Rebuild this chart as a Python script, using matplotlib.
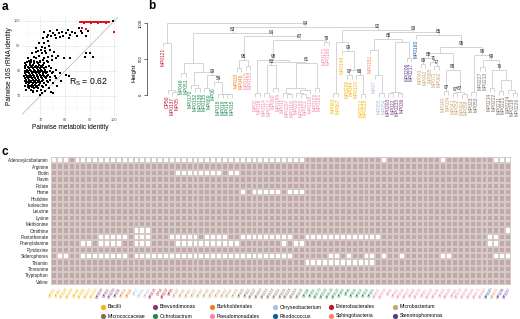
import matplotlib
matplotlib.use("Agg")
import matplotlib.pyplot as plt
import numpy as np
from matplotlib.colors import ListedColormap
from matplotlib.collections import LineCollection

# ------------------------------------------------------------------ data
# panel a : pairwise identities (metabolic, 16S)
black_pts = [
    (64.2, 82.5), (65.8, 82.5), (67.1, 82.5), (69.4, 82.5), (71.0, 82.5),
    (63.8, 82), (66.5, 82), (68.2, 82), (70.3, 82), (73.5, 82),
    (64.9, 81.5), (66.0, 81.5), (67.7, 81.5), (69.0, 81.5), (70.8, 81.5), (72.4, 81.5),
    (63.6, 81), (65.2, 81), (66.9, 81), (68.5, 81), (69.8, 81), (71.6, 81), (74.2, 81),
    (64.4, 80.5), (65.6, 80.5), (67.3, 80.5), (68.9, 80.5), (70.1, 80.5), (72.0, 80.5), (76.5, 80.5),
    (63.9, 80), (65.0, 80), (66.2, 80), (67.9, 80), (69.3, 80), (70.6, 80), (71.9, 80), (73.8, 80),
    (64.7, 79.5), (66.4, 79.5), (67.5, 79.5), (68.7, 79.5), (70.0, 79.5), (71.3, 79.5), (72.8, 79.5), (75.2, 79.5),
    (63.7, 79), (65.3, 79), (66.7, 79), (68.1, 79), (69.5, 79), (70.9, 79), (72.2, 79), (74.5, 79), (77.8, 79),
    (64.1, 78.5), (65.7, 78.5), (67.0, 78.5), (68.4, 78.5), (69.7, 78.5), (71.1, 78.5), (73.0, 78.5), (80.5, 78.5),
    (63.5, 78), (64.8, 78), (66.1, 78), (67.4, 78), (68.6, 78), (70.2, 78), (71.5, 78), (72.6, 78), (75.8, 78), (81.5, 78),
    (64.5, 77.5), (65.9, 77.5), (67.2, 77.5), (68.8, 77.5), (70.4, 77.5), (71.8, 77.5), (73.9, 77.5),
    (63.8, 77), (65.1, 77), (66.6, 77), (67.8, 77), (69.2, 77), (70.7, 77), (72.1, 77), (76.3, 77),
    (64.3, 76.5), (65.5, 76.5), (66.8, 76.5), (68.3, 76.5), (69.6, 76.5), (71.2, 76.5), (74.0, 76.5),
    (63.9, 76), (65.4, 76), (66.3, 76), (67.6, 76), (69.1, 76), (70.5, 76), (72.5, 76), (78.3, 76),
    (64.6, 75.5), (66.0, 75.5), (67.3, 75.5), (68.9, 75.5), (70.0, 75.5), (73.2, 75.5),
    (64.0, 75), (65.2, 75), (66.9, 75), (68.2, 75), (69.9, 75), (71.4, 75), (75.0, 75),
    (64.8, 74.5), (66.4, 74.5), (67.9, 74.5), (69.4, 74.5), (72.3, 74.5),
    (63.7, 74), (65.6, 74), (67.0, 74), (68.6, 74), (70.8, 74), (76.8, 74),
    (64.9, 73.5), (66.6, 73.5), (68.0, 73.5), (71.0, 73.5),
    (65.3, 73), (67.4, 73), (69.0, 73), (73.6, 73),
    (64.2, 72.5), (66.2, 72.5), (70.2, 72.5),
    (66.9, 72), (68.4, 72), (71.7, 72),
    (67.0, 71.5), (74.3, 71.5), (70.6, 71), (75.1, 71), (69.8, 70.5),
    (63.9, 83), (65.6, 83), (67.4, 83), (69.1, 83), (71.3, 83),
    (64.5, 83.5), (66.3, 83.5), (68.7, 83.5), (70.0, 83.5), (72.9, 83.5),
    (65.2, 84), (67.5, 84), (69.8, 84), (72.5, 84),
    (66.0, 84.5), (70.9, 84.5), (74.6, 84.5),
    (64.8, 85), (68.2, 85), (71.4, 85), (76.2, 85), (79.5, 85), (82.0, 85),
    (67.2, 85.5), (73.0, 85.5), (88.0, 85.5), (91.5, 85.5),
    (69.5, 86), (74.8, 86), (77.0, 86),
    (66.5, 87), (70.5, 87), (72.2, 87), (88.5, 87), (90.0, 87),
    (68.3, 87.5), (75.5, 87.5), (69.0, 88), (71.8, 88),
    (70.2, 88.5), (74.0, 88.5), (68.0, 89), (72.0, 89), (70.8, 89.5), (73.5, 90),
    (69.6, 91), (71.5, 91), (73.0, 92),
    (71.0, 93), (76.5, 93), (81.5, 93), (72.8, 93.5), (78.0, 93.5),
    (74.2, 94), (79.2, 94), (85.0, 94), (88.5, 94),
    (73.0, 94.5), (76.0, 94.5), (82.0, 94.5),
    (75.0, 95), (77.5, 95), (80.3, 95), (84.0, 95), (87.0, 95),
    (71.5, 95.5), (78.8, 95.5), (82.8, 95.5),
    (74.0, 96), (86.5, 96), (89.5, 96), (76.8, 96.5), (81.0, 96.5), (85.5, 97),
    (99.5, 100),
]
red_pts = [
    (86.0, 99.7), (86.6, 99.7), (87.2, 99.7), (87.8, 99.7), (88.4, 99.7), (89.0, 99.7),
    (89.6, 99.7), (90.2, 99.7), (90.8, 99.7), (91.4, 99.7), (92.0, 99.7), (92.6, 99.7),
    (93.2, 99.7), (93.8, 99.7), (94.4, 99.7), (95.0, 99.7), (95.6, 99.7), (96.2, 99.7),
    (96.8, 99.7), (97.4, 99.7), (98.0, 99.7),
    (87.5, 99.2), (90.5, 99.2), (93.5, 99.2), (96.5, 99.2),
    (86.8, 97.3), (88.6, 96.8), (99.8, 95.6),
]
rs_label = "R$_\\mathregular{S}$ = 0.62"

# taxonomic groups (alphabetical = heatmap column order)
groups = ["Bacilli", "Brevundimonas", "Burkholderiales", "Chryseobacterium",
          "Enterobacterales", "Microbacterium", "Micrococcaceae", "Ochrobactrum",
          "Pseudomonadales", "Rhodococcus", "Sphingobacteria", "Stenotrophomonas"]
group_colors = ["#F2B50A", "#7A3B7E", "#F07D1E", "#A9C0DE",
                "#C0122F", "#C9A46E", "#7E6D60", "#1D8A4B",
                "#F08AA6", "#0B5A9C", "#F7845F", "#553A8A"]
legend_grid = [["Bacilli", "Micrococcaceae"], ["Brevundimonas", "Ochrobactrum"],
               ["Burkholderiales", "Pseudomonadales"], ["Chryseobacterium", "Rhodococcus"],
               ["Enterobacterales", "Sphingobacteria"], ["Microbacterium", "Stenotrophomonas"]]
strains = {
    "Bacilli": ["MP063", "MP067", "MP0148", "MP0200", "MP044", "MP0119", "MP0212", "MP0220"],
    "Brevundimonas": ["MP0203", "MP022", "MP0233", "MP036"],
    "Burkholderiales": ["MP033", "MP046"],
    "Chryseobacterium": ["MP07", "MP055", "MP054"],
    "Enterobacterales": ["MP0121", "OP50", "MP0137", "MP05"],
    "Microbacterium": ["MP043", "MP042", "MP065", "MP072", "MP062", "MP040", "MP034",
                       "MP041", "MP052", "MP064", "MP058"],
    "Micrococcaceae": ["MP023", "MP053", "MP0227", "MP0213", "MP0214", "MP0222", "MP0211",
                       "MP0221", "MP0224", "MP0218", "MP0226"],
    "Ochrobactrum": ["MP048", "MP051", "MP0170", "MP0152", "MP0138", "MP0135", "MP069",
                     "MP06", "MP018", "MP019", "MP014", "MP015"],
    "Pseudomonadales": ["MP0115", "MP0150", "MP02", "MP016", "MP0114", "MP0117", "MP060",
                        "MP0195", "MP011", "MP0207", "MP0116", "MP020", "MP0155", "MP021",
                        "MP0103", "MP0158", "MP0161", "MP0171", "MP0180"],
    "Rhodococcus": ["MP0160"],
    "Sphingobacteria": ["MP0151"],
    "Stenotrophomonas": ["MP0206", "MP0217"],
}

# panel b : dendrogram (height, bootstrap, left, right)
comb7 = (97, None, (28, None, "MP011", (14, None, "MP0207", "MP0116")),
         (69, None, (28, None, "MP020", (14, None, "MP0155", "MP021")), "MP0103"))
entero = (722, None, "MP0121", (69, None, "OP50", (42, None, "MP0137", "MP05")))
ochro = (444, None, (306, None, "MP048", "MP051"),
         (319, None, (139, None, "MP0170", (97, None, "MP0152", "MP0138")),
          (278, "99", (97, None, "MP0135", "MP069"),
           (181, "54", "MP06", (14, None, "MP018", (14, None, "MP019", (14, None, "MP014", "MP015")))))))
pclade = (486, "95", (375, None, "MP033", "MP046"), (403, None, "MP0115", "MP0150"))
q1 = (486, "98", (28, None, "MP02", "MP016"),
      (458, None, (417, "83", (28, None, "MP0114", "MP0117"), (97, None, "MP060", "MP0195")),
       (444, "81", comb7, (97, None, "MP0158", "MP0161"))))
xclade = (819, "94", pclade, (764, "67", q1, (736, "79", "MP0171", "MP0180")))
bacilli = (736, None, (28, None, "MP063", "MP067"),
           (611, "99", "MP0148",
            (347, None, (278, "97", "MP0200", "MP044"),
             (278, "93", "MP0119", (14, None, "MP0212", "MP0220")))))
sc = (625, None, "MP0151", (278, None, "MP07", (28, None, "MP055", "MP054")))
bs = (736, None, (42, None, (28, None, "MP0203", "MP022"), (28, None, "MP0233", "MP036")),
      (514, None, "MP0206", "MP0217"))
microbact = (583, None,
             (514, "88", (431, "99", "MP043", "MP042"),
              (458, "71", "MP065", (403, "77", "MP072", "MP062"))),
             (347, "89", (56, "97", "MP040", "MP034"),
              (42, "87", (28, "97", "MP041", "MP052"), (14, None, "MP064", "MP058"))))
micrococ = (556, "96", (42, None, "MP023", "MP053"),
            (486, "99", (389, None, "MP0227", "MP0213"),
             (347, "76", (97, None, "MP0214", "MP0222"),
              (208, None, (56, None, "MP0211", "MP0221"),
               (69, None, "MP0224", (28, None, "MP0218", "MP0226"))))))
tree = (1000, None, entero,
        (944, "94", (861, "83", ochro, xclade),
         (903, "92", bacilli,
          (875, "93", (778, "85", sc, bs),
           (833, "85", "MP0160", (667, "95", microbact, micrococ))))))
height_ticks = [0, 500, 1000]

# panel c : pathway completeness (0 absent, 1 present, 2 present + marked)
pathways = ["Adenosylcobalamin", "Arginine", "Biotin", "Flavin", "Folate", "Heme",
            "Histidine", "Isoleucine", "Leucine", "Lysine", "Methionine", "Ornithine",
            "Pantothenate", "Phenylalanine", "Pyridoxine", "Siderophores", "Thiamin",
            "Threonine", "Tryptophan", "Valine"]
ALL2 = "2222222222 2222222222 2222222222 2222222222 2222222222 2222222222 2222222222 22222222"
presence = [
    "0002000000 0000000000 0000000000 0000000000 0002222222 2222220222 2222220222 22222000",
    ALL2,
    "2222222222 2222222222 2000000002 0022222222 2222222222 2222222222 2222222222 22222222",
    ALL2,
    "2222222211 1122111222 2222122221 2222222222 2222222222 2222222222 2222222222 22222222",
    "2121122111 1122222222 2222222222 2202000002 0002222222 2222222222 2222222222 22222222",
    ALL2, ALL2, ALL2, ALL2, ALL2,
    "2222222211 1122000222 2222222222 2222222222 2222222222 2222222222 2222222222 22222220",
    "2222212200 0002000222 0000020000 2200000000 0220000000 0000002222 2222222222 22220022",
    "2222200200 0022000222 2000000000 0022222220 2002222222 2222222222 2222222222 22220022",
    "2222222211 1122222222 2222222222 2222222222 2222222222 2222222222 2222222222 22222222",
    "2002200000 0002000000 0000000000 0000000000 0222222002 0220020220 2222220022 22222000",
    "2222211122 2222222222 2221222222 2222222222 2220000000 0000022222 2222222222 22222222",
    ALL2, ALL2, ALL2,
]

# ------------------------------------------------------------------ figure
W, H = 520, 319
fig = plt.figure(figsize=(W / 100, H / 100), dpi=100)
plt.rcParams["font.family"] = ["Liberation Sans", "DejaVu Sans"]


def px_axes(x0, y0, x1, y1):
    return fig.add_axes([x0 / W, 1 - y1 / H, (x1 - x0) / W, (y1 - y0) / H])


# ---------------- panel a
axa = px_axes(22, 16, 118, 117)
axa.set_xlim(62.5, 101.5)
axa.set_ylim(61.5, 102)
axa.set_xticks([70, 80, 90, 100])
axa.set_yticks([70, 80, 90, 100])
axa.set_xticks([65, 75, 85, 95], minor=True)
axa.set_yticks([65, 75, 85, 95], minor=True)
axa.grid(True, which="major", color="#E8E8E8", lw=0.5)
axa.grid(True, which="minor", color="#F2F2F2", lw=0.3)
axa.set_axisbelow(True)
for s in axa.spines.values():
    s.set_visible(False)
axa.tick_params(which="both", length=0, labelsize=2.8, labelcolor="#555555", pad=1)
axa.plot([60, 103], [60, 103], color="#A0A0A0", lw=0.4, zorder=1)
bx = [p[0] for p in black_pts]
by = [p[1] for p in black_pts]
axa.scatter(bx, by, s=0.7, color="black", marker="s", linewidths=0, zorder=2)
rx = [p[0] for p in red_pts]
ry = [p[1] for p in red_pts]
axa.scatter(rx, ry, s=0.8, color="#E0141E", marker="s", linewidths=0, zorder=3)
axa.text(89.5, 75.3, rs_label, fontsize=6.2, ha="center", va="center")
axa.set_xlabel("Pairwise metabolic identity", fontsize=4.7, labelpad=1)
axa.set_ylabel("Pairwise 16S rRNA identity", fontsize=4.7, labelpad=1)

# ---------------- panel b
name_group = {}
for g in groups:
    for n in strains[g]:
        name_group[n] = g
gcol = dict(zip(groups, group_colors))

HANG = 55
leaf_x, leaf_end, segs, boot = {}, {}, [], []


def layout(node):
    if isinstance(node, str):
        leaf_x[node] = len(leaf_x)
        return leaf_x[node], None, node
    h, lab, l, r = node
    xl, hl, nl = layout(l)
    xr, hr, nr = layout(r)
    for xc, hc, nc in ((xl, hl, nl), (xr, hr, nr)):
        if hc is None:
            leaf_end[nc] = h - HANG
            hc = h - HANG
        segs.append([(xc, hc), (xc, h)])
    segs.append([(xl, h), (xr, h)])
    xm = (xl + xr) / 2
    if lab:
        boot.append((xm, h, lab))
    return xm, h, None


layout(tree)
axb = px_axes(147, 10, 520, 135)
axb.set_xlim((147 - 163) / 4.6, (520 - 163) / 4.6)
axb.set_ylim((95 - 135) / 0.072, (95 - 10) / 0.072)
axb.add_collection(LineCollection(segs, colors="#C4C4C4", linewidths=0.5))
for xm, h, lab in boot:
    axb.text(xm, h + 12, lab, fontsize=3.3, ha="center", va="bottom", color="#222222")
for n, xv in leaf_x.items():
    axb.text(xv, leaf_end[n] - 15, n, rotation=90, fontsize=3.5, ha="center", va="top",
             color=gcol[name_group[n]], clip_on=False)
for s in ["top", "right", "bottom"]:
    axb.spines[s].set_visible(False)
axb.spines["left"].set_bounds(0, 1000)
axb.spines["left"].set_linewidth(0.4)
axb.set_xticks([])
axb.set_yticks(height_ticks)
axb.set_yticklabels([str(t) for t in height_ticks], rotation=90, va="center")
axb.tick_params(axis="y", labelsize=3, length=2, width=0.4, pad=1)
axb.set_ylabel("Height", fontsize=4.6, labelpad=2)

# ---------------- panel c
cols = [n for g in groups for n in strains[g]]
M = np.array([[int(c) for c in row.replace(" ", "")] for row in presence])
assert M.shape == (len(pathways), len(cols)), M.shape
axc = px_axes(51, 157, 511, 285)
cmap = ListedColormap(["#FFFFFF", "#C0A9A7", "#C0A9A7"])
axc.pcolormesh(np.arange(M.shape[1] + 1), np.arange(M.shape[0] + 1), M, cmap=cmap,
               vmin=0, vmax=2, edgecolors="#D6CAC8", linewidth=0.25)
yy, xx = np.nonzero(M == 2)
axc.scatter(xx + 0.5, yy + 0.5, s=0.35, marker="s", color="#4E3838", linewidths=0)
axc.set_xlim(0, M.shape[1])
axc.set_ylim(M.shape[0], 0)
axc.set_yticks(np.arange(M.shape[0]) + 0.5)
axc.set_yticklabels(pathways)
axc.set_xticks(np.arange(M.shape[1]) + 0.5)
axc.set_xticklabels(cols, rotation=60, ha="right", rotation_mode="anchor")
axc.tick_params(axis="y", length=0, labelsize=3.3, pad=1.5, labelcolor="#222222")
axc.tick_params(axis="x", length=0, labelsize=2.4, pad=1.5)
for lbl, n in zip(axc.get_xticklabels(), cols):
    lbl.set_color(gcol[name_group[n]])
for s in axc.spines.values():
    s.set_visible(False)

# ---------------- overlay: panel letters + legend
axo = fig.add_axes([0, 0, 1, 1])
axo.set_xlim(0, W)
axo.set_ylim(H, 0)
axo.axis("off")
axo.text(2, 1, "a", fontsize=8.5, fontweight="bold", va="top")
axo.text(148, 0, "b", fontsize=8.5, fontweight="bold", va="top")
axo.text(2, 146, "c", fontsize=8.5, fontweight="bold", va="top")
leg_x = [103, 155, 212, 275, 331, 395]
leg_y = [307, 316]
for c in range(6):
    for r in range(2):
        g = legend_grid[c][r]
        axo.scatter([leg_x[c]], [leg_y[r]], s=14, color=gcol[g], linewidths=0)
        axo.text(leg_x[c] + 5, leg_y[r], g, fontsize=3.7, va="center", ha="left")

fig.savefig("out.png", dpi=100)
